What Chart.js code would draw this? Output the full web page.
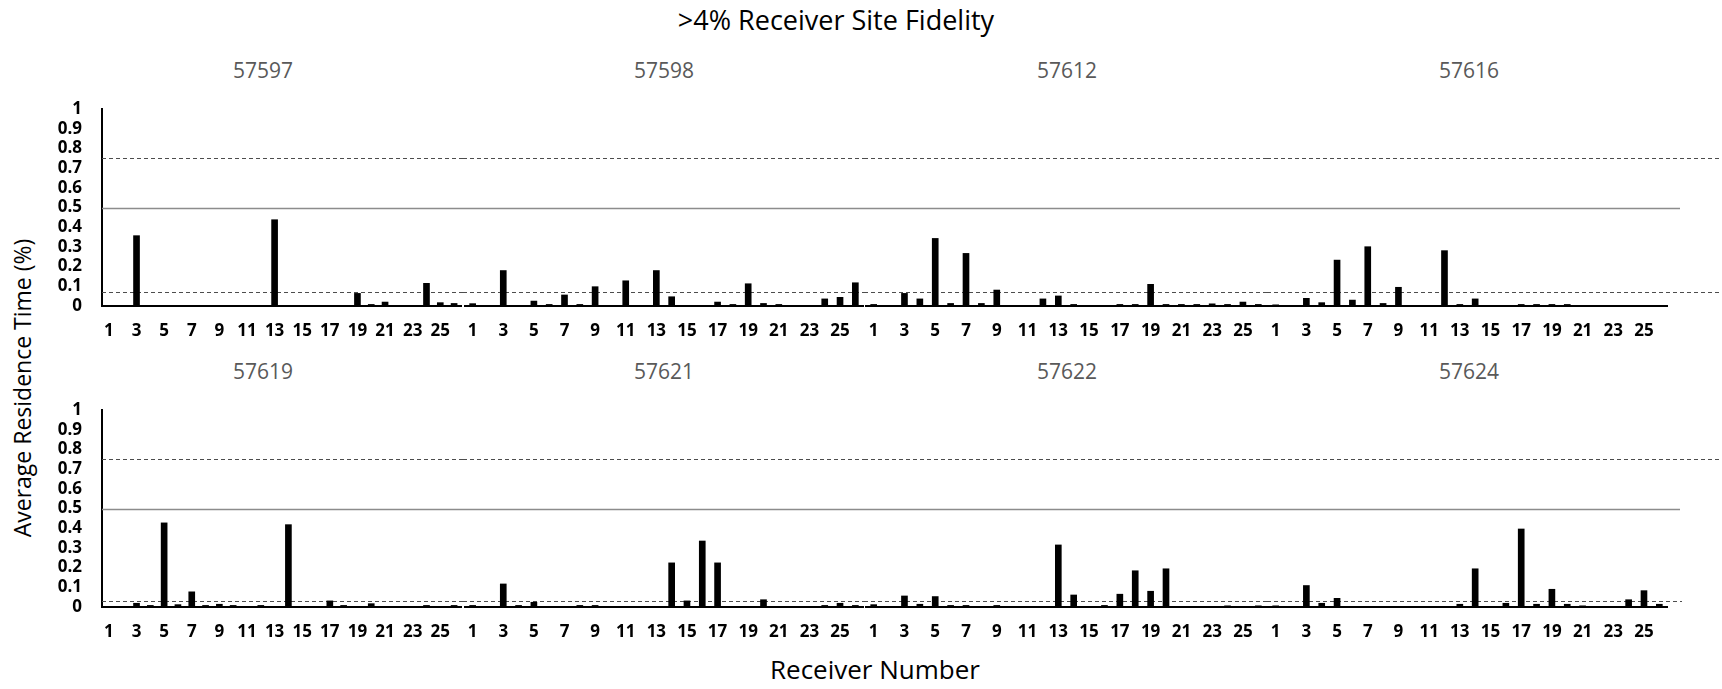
<!DOCTYPE html>
<html>
<head>
<meta charset="utf-8">
<script src="https://cdn.jsdelivr.net/npm/chart.js@4.4.1/dist/chart.umd.min.js"></script>
<style>
  body { margin: 0; background: #fff; width: 1722px; height: 689px; overflow: hidden; position: relative; font-family: "Open Sans", sans-serif; }
  canvas { position: absolute; }
  .lbl { position: absolute; white-space: nowrap; transform: translate(-50%, -50%); line-height: 1; }
  #title { font-size: 27px; color: #000; }
  .tag { font-size: 21px; color: #595959; }
  .axt { font-size: 26px; color: #000; }
</style>
</head>
<body>
<div id="title" class="lbl" style="left:836px; top:19px;">&gt;4% Receiver Site Fidelity</div>
<div class="lbl axt" style="left:875px; top:669px;">Receiver Number</div>
<div class="lbl axt" style="left:22px; top:388px; font-size:23px; transform: translate(-50%, -50%) rotate(-90deg);">Average Residence Time (%)</div>

<script>
// receiver numbers along each group's x axis
const receivers = ['1','2','3','4','5','6','7','8','9','10','11','12','13','14','15','16','17','18','19','20','21','22','23','24','25','26'];

// tag ids, one group of receivers per tag
const tagsTop = ['57597', '57598', '57612', '57616'];
const tagsBottom = ['57619', '57621', '57622', '57624'];

// average residence time per receiver
const res57597 = [0, 0, 0.357, 0, 0, 0, 0, 0, 0, 0, 0, 0, 0.438, 0, 0, 0, 0, 0, 0.064, 0.008, 0.02, 0, 0, 0.115, 0.017, 0.013];
const res57598 = [0.012, 0, 0.18, 0, 0.025, 0.008, 0.056, 0.008, 0.098, 0, 0.128, 0, 0.18, 0.047, 0, 0, 0.02, 0.008, 0.113, 0.013, 0.008, 0, 0, 0.036, 0.044, 0.118];
const res57612 = [0.008, 0, 0.064, 0.036, 0.343, 0.013, 0.267, 0.013, 0.081, 0, 0, 0.036, 0.051, 0.008, 0, 0, 0.008, 0.008, 0.11, 0.008, 0.008, 0.008, 0.011, 0.008, 0.02, 0.008];
const res57616 = [0.006, 0, 0.039, 0.017, 0.233, 0.03, 0.301, 0.013, 0.095, 0, 0, 0.281, 0.008, 0.036, 0, 0, 0.008, 0.008, 0.008, 0.008, 0, 0, 0, 0, 0, 0];
const res57619 = [0, 0, 0.019, 0.008, 0.427, 0.012, 0.077, 0.008, 0.014, 0.008, 0, 0.008, 0, 0.418, 0, 0, 0.031, 0.008, 0, 0.017, 0, 0, 0, 0.008, 0, 0.008];
const res57621 = [0.008, 0, 0.117, 0.008, 0.024, 0, 0, 0.008, 0.008, 0, 0, 0, 0, 0.224, 0.031, 0.335, 0.224, 0, 0, 0.037, 0, 0, 0, 0.008, 0.019, 0.008];
const res57622 = [0.012, 0, 0.056, 0.014, 0.053, 0.008, 0.008, 0, 0.008, 0, 0, 0, 0.315, 0.061, 0, 0.008, 0.065, 0.184, 0.08, 0.194, 0, 0, 0, 0.006, 0, 0.006];
const res57624 = [0.006, 0, 0.109, 0.019, 0.044, 0, 0, 0, 0, 0, 0, 0, 0.014, 0.194, 0, 0.019, 0.396, 0.014, 0.09, 0.014, 0.006, 0, 0, 0.037, 0.083, 0.014];

// reference levels: upper dashed, solid, lower dashed
const cutoffsTop = [0.75, 0.5, 0.072];
const cutoffsBottom = [0.75, 0.5, 0.03];

const FONT = '"Open Sans", sans-serif';

// draws the horizontal reference lines behind the bars
const refLines = {
  id: 'refLines',
  beforeDatasetsDraw(chart, args, opts) {
    const ctx = chart.ctx, a = chart.chartArea, y = chart.scales.y;
    opts.lines.forEach(function (l) {
      const py = Math.round(y.getPixelForValue(l.value)) + 0.5;
      const x0 = opts.first ? a.left : 0;
      const x1 = opts.last ? a.right + l.overhang : chart.width;
      ctx.save();
      ctx.strokeStyle = l.color;
      ctx.lineWidth = l.width;
      ctx.setLineDash(l.dash);
      ctx.beginPath();
      ctx.moveTo(x0, py);
      ctx.lineTo(x1, py);
      ctx.stroke();
      ctx.restore();
    });
  }
};

// canvas slots for the four tag groups of a row
const slots = [
  { left: 0,    width: 463, padL: 0, padR: 2 },
  { left: 463,  width: 401, padL: 2, padR: 1 },
  { left: 864,  width: 403, padL: 2, padR: 1 },
  { left: 1267, width: 455, padL: 1, padR: 55 }
];
const tagCenters = [263, 664, 1067, 1469];

const rows = [
  { top: 97,  tagY: 70,  tags: tagsTop,    series: [res57597, res57598, res57612, res57616], cutoffs: cutoffsTop,    overhang: [55, 13, 55] },
  { top: 398, tagY: 371, tags: tagsBottom, series: [res57619, res57621, res57622, res57624], cutoffs: cutoffsBottom, overhang: [55, 13, 15] }
];

function lineStyles(cutoffs, overhang) {
  return cutoffs.map(function (v, i) {
    const solid = v === 0.5;
    return {
      value: v,
      color: solid ? '#8c8c8c' : '#4d4d4d',
      width: solid ? 1.6 : 1,
      dash: solid ? [] : [4, 3],
      overhang: overhang[i]
    };
  });
}

function makeGroup(row, g) {
  const slot = slots[g];
  const canvas = document.createElement('canvas');
  canvas.width = slot.width;
  canvas.height = 250;
  canvas.style.left = slot.left + 'px';
  canvas.style.top = row.top + 'px';
  document.body.appendChild(canvas);

  const tag = document.createElement('div');
  tag.className = 'lbl tag';
  tag.style.left = tagCenters[g] + 'px';
  tag.style.top = row.tagY + 'px';
  tag.textContent = row.tags[g];
  document.body.appendChild(tag);

  const first = g === 0;
  new Chart(canvas.getContext('2d'), {
    type: 'bar',
    data: {
      labels: receivers,
      datasets: [{
        label: row.tags[g],
        data: row.series[g],
        backgroundColor: '#000',
        barThickness: 6
      }]
    },
    options: {
      responsive: false,
      animation: false,
      events: [],
      layout: { padding: { top: 12, left: slot.padL, right: slot.padR, bottom: 0 } },
      plugins: {
        legend: { display: false },
        tooltip: { enabled: false },
        refLines: { lines: lineStyles(row.cutoffs, row.overhang), first: first, last: g === 3 }
      },
      scales: {
        x: {
          // tick marks are not drawn, their length just spaces the labels off the axis
          grid: { display: false, drawTicks: true, tickLength: 15 },
          border: { display: true, color: '#000', width: 2 },
          afterFit: function (s) { s.height = 41; },
          ticks: {
            autoSkip: false,
            maxRotation: 0,
            padding: 0,
            color: '#000',
            font: { family: FONT, size: 17, weight: 'bold' },
            callback: function (v, i) { return i % 2 === 0 ? receivers[i] : ''; }
          }
        },
        y: {
          display: first,
          min: 0,
          max: 1,
          grid: { display: false, drawTicks: true, tickLength: 20 },
          border: { display: true, color: '#000', width: 2 },
          afterFit: function (s) { if (first) s.width = 102; },
          ticks: {
            stepSize: 0.1,
            autoSkip: false,
            padding: 0,
            color: '#000',
            font: { family: FONT, size: 17, weight: 'bold' },
            callback: function (v) { return String(+v.toFixed(1)); }
          }
        }
      }
    },
    plugins: [refLines]
  });
}

rows.forEach(function (row) {
  for (let g = 0; g < 4; g++) makeGroup(row, g);
});
</script>
</body>
</html>
